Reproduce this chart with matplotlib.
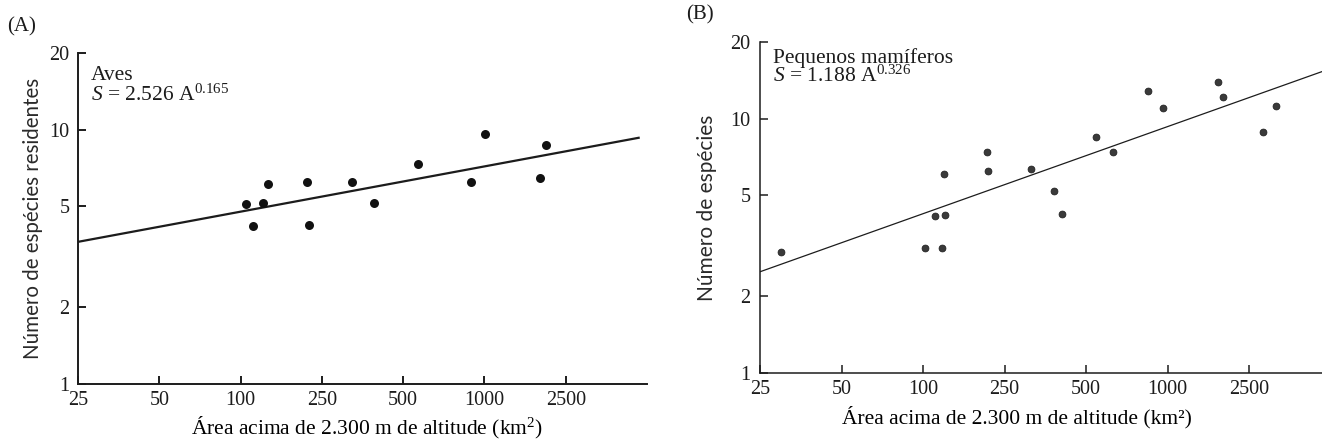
import numpy as np
import matplotlib
matplotlib.use("Agg")
import matplotlib.pyplot as plt
from matplotlib.ticker import FixedLocator, FixedFormatter, NullLocator

# Area axis: printed tick values sit at equal spacing along the axis
area_ticks = [25, 50, 100, 250, 500, 1000, 2500]
area_tick_labels = ["25", "50", "100", "250", "500", "1000", "2500"]
species_ticks = [1, 2, 5, 10, 20]
species_tick_labels = ["1", "2", "5", "10", "20"]

# (A) resident birds
aves_area = [106, 115, 129, 136, 211, 217, 322, 390, 570, 894, 1012, 1877, 1998]
aves_species = [5.11, 4.16, 5.14, 6.13, 6.24, 4.20, 6.22, 5.13, 7.35, 6.22, 9.62, 6.47, 8.67]
aves_fit_area = [25, 4700]
aves_fit_species = [3.62, 9.30]

# (B) small mammals
mam_area = [30, 102, 114, 128, 124, 126, 206, 207, 313, 380, 407, 542, 631,
            847, 965, 1768, 1867, 2825, 3150]
mam_species = [2.99, 3.10, 4.15, 4.16, 3.11, 6.07, 7.39, 6.20, 6.31, 5.20, 4.20, 8.46, 7.41,
               12.8, 10.96, 13.9, 12.2, 8.85, 11.2]
mam_fit_area = [25, 4650]
mam_fit_species = [2.50, 15.3]

INK = "#1c1c1c"

plt.rcParams["font.family"] = "Liberation Serif"
plt.rcParams["mathtext.fontset"] = "custom"
plt.rcParams["mathtext.rm"] = "Liberation Serif"
plt.rcParams["mathtext.it"] = "Liberation Serif:italic"
plt.rcParams["text.color"] = INK

# piecewise-log mapping: one unit of axis length between neighbouring ticks
_anchor = np.log(np.array(area_ticks + [5000], dtype=float))
_index = np.arange(len(_anchor), dtype=float)


def area_forward(x):
    lx = np.log(np.clip(np.asarray(x, dtype=float), 1e-6, None))
    t = np.interp(lx, _anchor, _index)
    t = np.where(lx < _anchor[0], (lx - _anchor[0]) / (_anchor[1] - _anchor[0]), t)
    t = np.where(lx > _anchor[-1],
                 _index[-1] + (lx - _anchor[-1]) / (_anchor[-1] - _anchor[-2]), t)
    return t


def area_inverse(t):
    t = np.asarray(t, dtype=float)
    lx = np.interp(t, _index, _anchor)
    lx = np.where(t < 0, _anchor[0] + t * (_anchor[1] - _anchor[0]), lx)
    lx = np.where(t > _index[-1],
                  _anchor[-1] + (t - _index[-1]) * (_anchor[-1] - _anchor[-2]), lx)
    return np.exp(lx)


def style_axes(ax, xmax, lw, ypad):
    ax.set_xscale("function", functions=(area_forward, area_inverse))
    ax.set_yscale("log")
    ax.set_xlim(25, xmax)
    ax.set_ylim(1, 20)
    ax.xaxis.set_major_locator(FixedLocator(area_ticks))
    ax.xaxis.set_major_formatter(FixedFormatter(area_tick_labels))
    ax.xaxis.set_minor_locator(NullLocator())
    ax.yaxis.set_major_locator(FixedLocator(species_ticks))
    ax.yaxis.set_major_formatter(FixedFormatter(species_tick_labels))
    ax.yaxis.set_minor_locator(NullLocator())
    for side in ("top", "right"):
        ax.spines[side].set_visible(False)
    for side in ("left", "bottom"):
        ax.spines[side].set_linewidth(lw)
        ax.spines[side].set_color(INK)
    ax.tick_params(axis="both", direction="in", length=6, width=lw, colors=INK,
                   labelsize=14.5)
    ax.tick_params(axis="x", pad=5)
    ax.tick_params(axis="y", pad=ypad)
    ax.set_facecolor("white")


fig = plt.figure(figsize=(13.22, 4.43), dpi=100)
fig.patch.set_facecolor("white")

ax_a = fig.add_axes([0.0590, 0.1332, 0.4304, 0.7472])
ax_b = fig.add_axes([0.5749, 0.1580, 0.4251, 0.7472])

# (A) birds
style_axes(ax_a, 5000, 1.4, 6)
ax_a.plot(aves_fit_area, aves_fit_species, color=INK, lw=1.6, solid_capstyle="butt")
ax_a.scatter(aves_area, aves_species, s=42, color="#111111", zorder=3, linewidths=0)
ax_a.text(0.023, 0.918, "Aves", transform=ax_a.transAxes, fontsize=15.5,
          ha="left", va="baseline")
ax_a.text(0.023, 0.855, "$S$ = 2.526 A$^{0.165}$", transform=ax_a.transAxes,
          fontsize=15.5, ha="left", va="baseline")
ax_a.set_xlabel("Área acima de 2.300 m de altitude (km$^2$)", fontsize=15.5)
ax_a.xaxis.set_label_coords(0.508, -0.094)
ax_a.set_ylabel("Número de espécies residentes", fontsize=14.8, family="Lato",
                color="#2a2a2a")
ax_a.yaxis.set_label_coords(-0.062, 0.5)

# (B) small mammals
style_axes(ax_b, 4650, 1.1, 7)
ax_b.plot(mam_fit_area, mam_fit_species, color=INK, lw=0.9)
ax_b.scatter(mam_area, mam_species, s=24, color="#3a3a3a", edgecolors="#222222",
             linewidths=0.6, zorder=3)
ax_b.text(0.023, 0.937, "Pequenos mamíferos", transform=ax_b.transAxes, fontsize=15.5,
          ha="left", va="baseline")
ax_b.text(0.023, 0.879, "$S$ = 1.188 A$^{0.326}$", transform=ax_b.transAxes,
          fontsize=15.5, ha="left", va="baseline")
ax_b.set_xlabel("Área acima de 2.300 m de altitude (km²)", fontsize=15.5)
ax_b.xaxis.set_label_coords(0.458, -0.100)
ax_b.set_ylabel("Número de espécies", fontsize=15, family="Lato", color="#2a2a2a")
ax_b.yaxis.set_label_coords(-0.077, 0.5)

fig.text(0.0166, 0.939, "(A)", fontsize=15, ha="center", va="center")
fig.text(0.5295, 0.966, "(B)", fontsize=15, ha="center", va="center")

fig.savefig("out.png", dpi=100, facecolor="white")
